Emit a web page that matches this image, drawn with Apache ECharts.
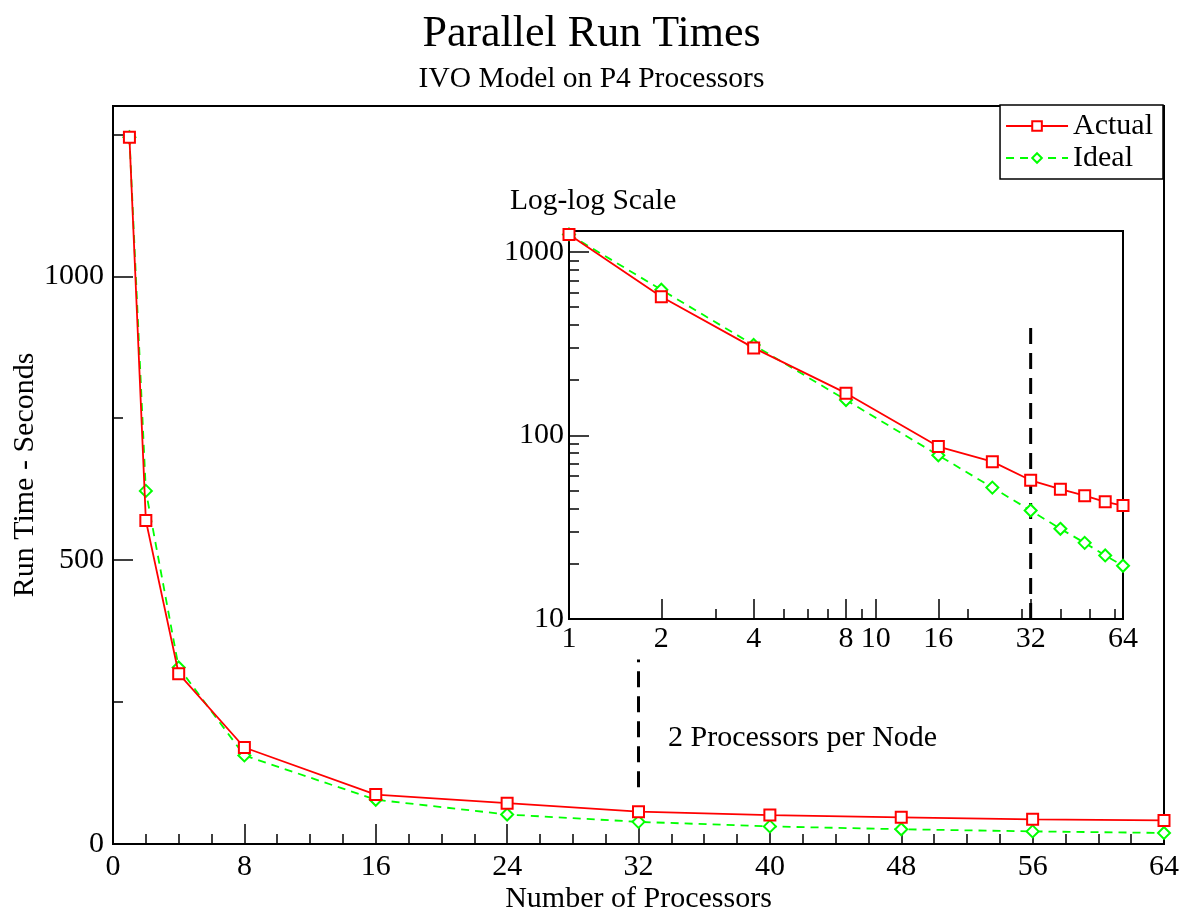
<!DOCTYPE html>
<html>
<head>
<meta charset="utf-8">
<script src="https://cdn.jsdelivr.net/npm/echarts@6/dist/echarts.min.js"></script>
<style>
html,body{margin:0;padding:0;background:#fff;}
#chart{width:1183px;height:911px;}
</style>
</head>
<body>
<div id="chart"></div>
<script>
// ---- data ----
var processors = [1, 2, 4, 8, 16, 24, 32, 40, 48, 56, 64];
var actualTimes = [1245, 570, 300, 170, 87, 72, 57, 51, 47, 43.5, 41.5];
var idealTimes  = [1245, 622, 311, 156, 78, 52, 39, 31, 26, 22.2, 19.5];

// dashed "2 processors per node" markers
var mainDivider  = [[32, 100], [32, 325]];
var insetDivider = [[32, 10], [32, 400]];
var noteText = '2 Processors per Node';
var notePoint = [[33.8, 186]];

// tick values
var mainYMajor = [0, 500, 1000];
var mainYMinor = [250, 750, 1250];
var insetXMajor = [1, 2, 4, 8, 10, 16, 32, 64];
var insetXMinor = [3, 5, 6, 7, 9, 20, 30, 40, 50, 60];
var insetYMajor = [10, 100, 1000];
var insetYMinor = [20, 30, 40, 50, 60, 70, 80, 90, 200, 300, 400, 500, 600, 700, 800, 900];

var FONT = "'Liberation Serif', 'DejaVu Serif', serif";
var RED = '#ff0000', GREEN = '#00ff00';
var TXT = 30;

function pairs(xs, ys) { return xs.map(function (x, i) { return [x, ys[i]]; }); }
function plain(v) { return String(v); }

var chart = echarts.init(document.getElementById('chart'), null, {renderer: 'canvas'});

var axisLine = {show: true, lineStyle: {color: '#000', width: 2}};
var labelStyle = {color: '#000', fontSize: TXT, fontFamily: FONT, formatter: plain};
var nameStyle = {fontSize: TXT, color: '#000', fontFamily: FONT};

var option = {
  backgroundColor: '#fff',
  animation: false,
  textStyle: {fontFamily: FONT},
  title: [
    {text: 'Parallel Run Times', left: 'center', top: 7,
     textStyle: {fontSize: 44, fontWeight: 'normal', color: '#000', fontFamily: FONT}},
    {text: 'IVO Model on P4 Processors', left: 'center', top: 59,
     textStyle: {fontSize: 29.5, fontWeight: 'normal', color: '#000', fontFamily: FONT}},
    {text: 'Log-log Scale', left: 505, top: 181,
     textStyle: {fontSize: 29.5, fontWeight: 'normal', color: '#000', fontFamily: FONT}}
  ],
  legend: {
    orient: 'vertical', right: 20, top: 105,
    data: ['Actual', 'Ideal'],
    backgroundColor: '#fff',
    borderColor: '#000', borderWidth: 1.5, borderRadius: 0,
    padding: [6, 10, 6, 5],
    itemWidth: 62, itemHeight: 12, itemGap: 2,
    textStyle: {fontSize: TXT, color: '#000', fontFamily: FONT}
  },
  grid: [
    {left: 113, right: 19, top: 106, bottom: 67, outerBoundsMode: 'none', containLabel: false,
     show: true, borderColor: '#000', borderWidth: 2, backgroundColor: 'transparent'},
    {left: 569, right: 60, top: 231, bottom: 292, outerBoundsMode: 'none', containLabel: false,
     show: true, borderColor: '#000', borderWidth: 2, backgroundColor: '#fff'}
  ],
  xAxis: [
    {type: 'value', gridIndex: 0, min: 0, max: 64, interval: 8,
     name: 'Number of Processors', nameLocation: 'middle', nameGap: 40, nameMoveOverlap: false,
     nameTextStyle: nameStyle,
     axisLine: axisLine,
     axisTick: {inside: true, length: 20, lineStyle: {color: '#000', width: 1.5}},
     minorTick: {show: true, splitNumber: 4, length: 10, lineStyle: {color: '#000', width: 1.5}},
     axisLabel: Object.assign({margin: 8}, labelStyle),
     splitLine: {show: false}},
    {type: 'log', logBase: 2, gridIndex: 1, min: 1, max: 64, position: 'bottom',
     axisLine: axisLine,
     axisTick: {inside: true, length: 20, customValues: insetXMajor, lineStyle: {color: '#000', width: 1.5}},
     axisLabel: Object.assign({margin: 5, customValues: insetXMajor}, labelStyle),
     splitLine: {show: false}},
    {type: 'log', logBase: 2, gridIndex: 1, min: 1, max: 64, position: 'bottom',
     axisLine: {show: false},
     axisTick: {inside: true, length: 10, customValues: insetXMinor, lineStyle: {color: '#000', width: 1.5}},
     axisLabel: {show: false},
     splitLine: {show: false}}
  ],
  yAxis: [
    {type: 'value', gridIndex: 0, min: 0, max: 1300, position: 'left',
     name: 'Run Time - Seconds', nameLocation: 'middle', nameGap: 73, nameMoveOverlap: false,
     nameTextStyle: nameStyle,
     axisLine: axisLine,
     axisTick: {inside: true, length: 20, customValues: mainYMajor, lineStyle: {color: '#000', width: 1.5}},
     axisLabel: Object.assign({margin: 9, customValues: mainYMajor}, labelStyle),
     splitLine: {show: false}},
    {type: 'value', gridIndex: 0, min: 0, max: 1300, position: 'left',
     axisLine: {show: false},
     axisTick: {inside: true, length: 10, customValues: mainYMinor, lineStyle: {color: '#000', width: 1.5}},
     axisLabel: {show: false},
     splitLine: {show: false}},
    {type: 'log', logBase: 10, gridIndex: 1, min: 10, max: 1300, position: 'left',
     axisLine: axisLine,
     axisTick: {inside: true, length: 20, customValues: insetYMajor, lineStyle: {color: '#000', width: 1.5}},
     axisLabel: Object.assign({margin: 5, customValues: insetYMajor}, labelStyle),
     splitLine: {show: false}},
    {type: 'log', logBase: 10, gridIndex: 1, min: 10, max: 1300, position: 'left',
     axisLine: {show: false},
     axisTick: {inside: true, length: 10, customValues: insetYMinor, lineStyle: {color: '#000', width: 1.5}},
     axisLabel: {show: false},
     splitLine: {show: false}}
  ],
  series: [
    {name: 'Actual', type: 'line', xAxisIndex: 0, yAxisIndex: 0,
     data: pairs(processors, actualTimes),
     symbol: 'emptyRect', symbolSize: 11,
     lineStyle: {color: RED, width: 1.8}, itemStyle: {color: RED, borderWidth: 1.5}, z: 5},
    {name: 'Ideal', type: 'line', xAxisIndex: 0, yAxisIndex: 0,
     data: pairs(processors, idealTimes),
     symbol: 'emptyDiamond', symbolSize: 12,
     lineStyle: {color: GREEN, width: 1.8, type: [8, 6]}, itemStyle: {color: GREEN, borderWidth: 1.5}, z: 4},
    {type: 'line', xAxisIndex: 0, yAxisIndex: 0, data: mainDivider, symbol: 'none', silent: true,
     lineStyle: {color: '#000', width: 3, type: [16, 9]}},
    {type: 'scatter', xAxisIndex: 0, yAxisIndex: 0, data: notePoint, symbolSize: 0, silent: true,
     itemStyle: {opacity: 1},
     label: {show: true, position: 'right', distance: 0, formatter: noteText,
             fontSize: TXT, color: '#000', fontFamily: FONT, textBorderWidth: 0}},
    {name: 'Actual', type: 'line', xAxisIndex: 1, yAxisIndex: 2,
     data: pairs(processors, actualTimes),
     symbol: 'emptyRect', symbolSize: 11,
     lineStyle: {color: RED, width: 1.8}, itemStyle: {color: RED, borderWidth: 1.5}, z: 5},
    {name: 'Ideal', type: 'line', xAxisIndex: 1, yAxisIndex: 2,
     data: pairs(processors, idealTimes),
     symbol: 'emptyDiamond', symbolSize: 12,
     lineStyle: {color: GREEN, width: 1.8, type: [8, 6]}, itemStyle: {color: GREEN, borderWidth: 1.5}, z: 4},
    {type: 'line', xAxisIndex: 1, yAxisIndex: 2, data: insetDivider, symbol: 'none', silent: true,
     lineStyle: {color: '#000', width: 3, type: [16, 9]}}
  ]
};
chart.setOption(option);
</script>
</body>
</html>
